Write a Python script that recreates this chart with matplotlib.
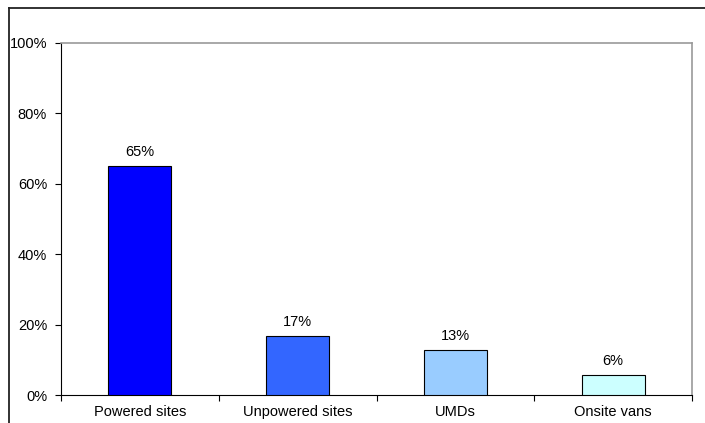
import matplotlib.pyplot as plt
import numpy as np
from matplotlib.lines import Line2D

categories = ['Powered sites', 'Unpowered sites', 'UMDs', 'Onsite vans']
shares = [0.65, 0.167, 0.129, 0.057]
labels = ['65%', '17%', '13%', '6%']
colors = ['#0000FF', '#3366FF', '#99CCFF', '#CCFFFF']
y_ticks = [0, 0.2, 0.4, 0.6, 0.8, 1.0]

plt.rcParams['font.family'] = ['Liberation Sans', 'DejaVu Sans']
plt.rcParams['font.size'] = 10.5

fig = plt.figure(figsize=(7.05, 4.23), dpi=100)
ax = fig.add_axes([61 / 705, 1 - 395 / 423, 631 / 705, 352 / 423])

x = np.arange(len(categories))
bars = ax.bar(x, shares, width=0.4, color=colors, edgecolor='black', linewidth=0.8, zorder=3)
for b, lab in zip(bars, labels):
    ax.annotate(lab, (b.get_x() + b.get_width() / 2, b.get_height()),
                xytext=(0, 5), textcoords='offset points', ha='center', va='bottom')

ax.set_xlim(-0.5, len(categories) - 0.5)
ax.set_ylim(0, 1)
ax.set_yticks(y_ticks)
ax.set_yticklabels([f'{int(round(t * 100))}%' for t in y_ticks])

# category labels at centres, tick marks at boundaries
ax.set_xticks(np.arange(-0.5, len(categories)), minor=False)
ax.set_xticklabels([])
ax.set_xticks(x, minor=True)
ax.set_xticklabels(categories, minor=True)
ax.tick_params(axis='x', which='minor', length=0, pad=7)
ax.tick_params(axis='x', which='major', direction='out', length=4, width=0.8)
ax.tick_params(axis='y', direction='out', length=4, width=0.8, pad=6)

for side in ['top', 'right']:
    ax.spines[side].set_color('#999999')
    ax.spines[side].set_linewidth(1.2)
for side in ['left', 'bottom']:
    ax.spines[side].set_color('black')
    ax.spines[side].set_linewidth(0.8)

# outer chart frame, cut off at right and bottom
fig.add_artist(Line2D([8.5 / 705, 1.0], [1 - 8.5 / 423] * 2, color='#222222', linewidth=1.3))
fig.add_artist(Line2D([8.5 / 705] * 2, [0, 1 - 8.5 / 423], color='#222222', linewidth=1.3))

fig.savefig('out.png', dpi=100)
